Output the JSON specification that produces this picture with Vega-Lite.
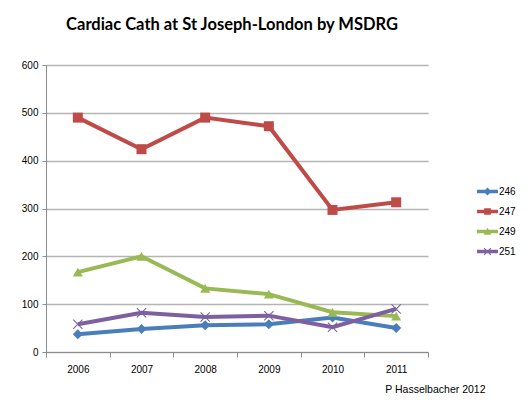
{
  "$schema": "https://vega.github.io/schema/vega-lite/v6.json",
  "width": 382,
  "height": 287,
  "autosize": "none",
  "padding": {"left": 46, "top": 65, "right": 101, "bottom": 56},
  "background": "white",
  "title": {
    "text": "Cardiac Cath at St Joseph-London by MSDRG",
    "font": "Lato",
    "fontSize": 16.5,
    "fontWeight": "bold",
    "color": "#000000",
    "anchor": "middle",
    "frame": "group",
    "baseline": "alphabetic",
    "offset": 14,
    "dx": -5
  },
  "data": {
    "values": [
      {"year": "2006", "drg": "246", "value": 37},
      {"year": "2007", "drg": "246", "value": 48},
      {"year": "2008", "drg": "246", "value": 56},
      {"year": "2009", "drg": "246", "value": 58},
      {"year": "2010", "drg": "246", "value": 72},
      {"year": "2011", "drg": "246", "value": 50},
      {"year": "2006", "drg": "247", "value": 490},
      {"year": "2007", "drg": "247", "value": 424},
      {"year": "2008", "drg": "247", "value": 490},
      {"year": "2009", "drg": "247", "value": 472},
      {"year": "2010", "drg": "247", "value": 297},
      {"year": "2011", "drg": "247", "value": 313},
      {"year": "2006", "drg": "249", "value": 167},
      {"year": "2007", "drg": "249", "value": 200},
      {"year": "2008", "drg": "249", "value": 133},
      {"year": "2009", "drg": "249", "value": 121},
      {"year": "2010", "drg": "249", "value": 83},
      {"year": "2011", "drg": "249", "value": 75},
      {"year": "2006", "drg": "251", "value": 58},
      {"year": "2007", "drg": "251", "value": 82},
      {"year": "2008", "drg": "251", "value": 73},
      {"year": "2009", "drg": "251", "value": 76},
      {"year": "2010", "drg": "251", "value": 52},
      {"year": "2011", "drg": "251", "value": 90}
    ]
  },
  "encoding": {
    "x": {
      "field": "year",
      "type": "ordinal",
      "scale": {"type": "band", "paddingInner": 0, "paddingOuter": 0},
      "axis": {
        "labelAngle": 0,
        "tickBand": "extent",
        "tickSize": 5,
        "tickColor": "#8c8c8c",
        "domainColor": "#8c8c8c",
        "domainWidth": 1,
        "labelFont": "Liberation Sans",
        "labelFontSize": 10,
        "labelColor": "#000000",
        "labelPadding": 7,
        "grid": false,
        "title": "P Hasselbacher 2012",
        "titleFont": "Liberation Sans",
        "titleFontSize": 10.5,
        "titleFontWeight": "normal",
        "titleColor": "#000000",
        "titleAnchor": "end",
        "titleAlign": "right",
        "titleBaseline": "alphabetic",
        "titleX": 439,
        "titleY": 40
      }
    },
    "y": {
      "field": "value",
      "type": "quantitative",
      "scale": {"domain": [0, 600]},
      "axis": {
        "values": [0, 100, 200, 300, 400, 500, 600],
        "tickSize": 4,
        "tickColor": "#8c8c8c",
        "domainColor": "#8c8c8c",
        "domainWidth": 1,
        "grid": true,
        "gridColor": "#b4b4b4",
        "gridWidth": 1.5,
        "labelFont": "Liberation Sans",
        "labelFontSize": 10,
        "labelColor": "#000000",
        "labelPadding": 4,
        "title": null
      }
    },
    "color": {
      "field": "drg",
      "type": "nominal",
      "scale": {
        "domain": ["246", "247", "249", "251"],
        "range": ["#4a7ebb", "#be4b48", "#98b954", "#7d60a0"]
      },
      "legend": {
        "title": null,
        "orient": "none",
        "legendX": 431,
        "legendY": 116,
        "symbolType": "square",
        "symbolSize": 441,
        "labelFont": "Liberation Sans",
        "labelFontSize": 10,
        "labelColor": "#000000",
        "labelOffset": 1,
        "rowPadding": 4,
        "encode": {
          "symbols": {
            "update": {
              "shape": {"signal": "datum.value === '246' ? 'M-1,-0.16L1,-0.16L1,0.16L-1,0.16Z M0,-0.38L0.38,0L0,0.38L-0.38,0Z' : datum.value === '247' ? 'M-1,-0.16L1,-0.16L1,0.16L-1,0.16Z M-0.32,-0.32L0.32,-0.32L0.32,0.32L-0.32,0.32Z' : datum.value === '249' ? 'M-1,-0.16L1,-0.16L1,0.16L-1,0.16Z M0,-0.36L0.36,0.3L-0.36,0.3Z' : 'M-1,-0.16L1,-0.16L1,0.16L-1,0.16Z M-0.36,-0.28L-0.28,-0.36L0.36,0.28L0.28,0.36Z M0.28,-0.36L0.36,-0.28L-0.28,0.36L-0.36,0.28Z'"},
              "fill": {"scale": "color", "field": "value"},
              "fillOpacity": {"value": 1},
              "strokeWidth": {"value": 0}
            }
          }
        }
      }
    }
  },
  "layer": [
    {
      "mark": {"type": "line", "strokeWidth": 4}
    },
    {
      "transform": [{"filter": "datum.drg === '246'"}],
      "mark": {"type": "point", "filled": true, "opacity": 1, "size": 100, "shape": "diamond"}
    },
    {
      "transform": [{"filter": "datum.drg === '247'"}],
      "mark": {"type": "point", "filled": true, "opacity": 1, "size": 100, "shape": "square"}
    },
    {
      "transform": [{"filter": "datum.drg === '249'"}],
      "mark": {"type": "point", "filled": true, "opacity": 1, "size": 100, "shape": "triangle-up"}
    },
    {
      "transform": [{"filter": "datum.drg === '251'"}],
      "mark": {"type": "point", "filled": true, "opacity": 1, "size": 100, "shape": "M-1,-0.85L-0.85,-1L1,0.85L0.85,1Z M0.85,-1L1,-0.85L-0.85,1L-1,0.85Z"}
    }
  ],
  "config": {
    "view": {"stroke": null}
  }
}
